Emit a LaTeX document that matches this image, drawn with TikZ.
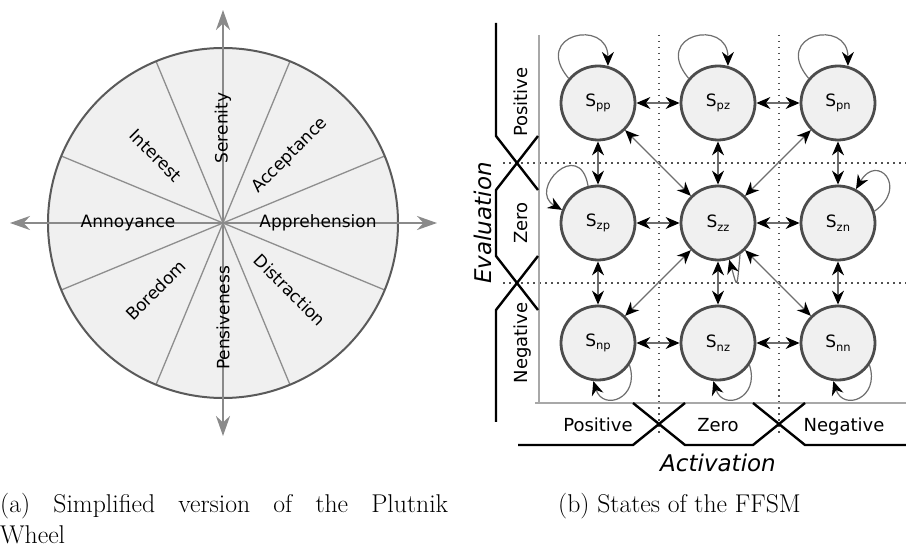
\documentclass[tikz,border=0pt]{standalone}
\usepackage{fontspec}
\newfontfamily\dejavu{DejaVu Sans}
\usetikzlibrary{arrows.meta,calc}

\definecolor{wheelfill}{HTML}{F0F0F0}
\definecolor{rimgray}{HTML}{5A5A5A}
\definecolor{staterim}{HTML}{4C4C4C}
\definecolor{spokegray}{HTML}{8E8E8E}
\definecolor{axisgray}{HTML}{8A8A8A}
\definecolor{gridgray}{HTML}{505050}
\definecolor{edgegray}{HTML}{6E6E6E}
\definecolor{framegray}{HTML}{A8A8A8}

\newcommand{\stname}[1]{S\raisebox{-3.5pt}{\fontsize{11.5}{11.5}\selectfont #1}}

\tikzset{
  headtip/.tip={Stealth[length=14pt,width=12pt,color=black]},
  wlabel/.style={font=\dejavu\fontsize{17}{17}\selectfont, inner sep=0pt},
  state/.style={circle, minimum size=74pt, inner sep=0pt, fill=wheelfill,
    draw=staterim, line width=2.8pt, font=\dejavu\fontsize{17}{17}\selectfont},
  pair/.style={draw=edgegray, line width=1.2pt, arrows=headtip-headtip},
  selfloop/.style={draw=edgegray, line width=1.2pt, arrows=-headtip},
  bracket/.style={black, line width=2.4pt, line join=miter},
  gridline/.style={gridgray, line width=1.3pt, dash pattern=on 1.5pt off 4.5pt},
  frameaxis/.style={framegray, line width=1.8pt},
  axlabel/.style={font=\dejavu\fontsize{18}{18}\selectfont, inner sep=0pt},
  axtitle/.style={font=\dejavu\itshape\fontsize{23}{23}\selectfont, inner sep=0pt},
  caption/.style={font=\fontsize{25.7}{31}\selectfont, inner sep=0pt, anchor=base west},
}

\begin{document}
\begin{tikzpicture}[x=1pt,y=1pt]
\useasboundingbox (0,0) rectangle (906,547);

% ---------------- emotion wheel ----------------
\coordinate (C) at (223,324);
\fill[wheelfill] (C) circle (175);
\foreach \a in {22.5,67.5,...,360}
  \draw[spokegray, line width=1.3pt] (C) -- ++(\a:175);
\draw[rimgray, line width=2pt] (C) circle (175);
\coordinate (axW) at (10,324);
\coordinate (axE) at (437,324);
\coordinate (axS) at (223,111);
\coordinate (axN) at (223,537);
\draw[axisgray, line width=2.4pt,
  arrows={Stealth[length=20pt,width=14pt]-Stealth[length=20pt,width=14pt]}] (axW) -- (axE);
\draw[axisgray, line width=2.4pt,
  arrows={Stealth[length=20pt,width=14pt]-Stealth[length=20pt,width=14pt]}] (axS) -- (axN);

\node[wlabel, rotate=90]  (ser) at ($(C)+(90:95)$)   {Serenity};
\node[wlabel, rotate=45]  (acc) at ($(C)+(45:95)$)   {Acceptance};
\node[wlabel]             (app) at ($(C)+(0:95)$)    {Apprehension};
\node[wlabel, rotate=-45] (dis) at ($(C)+(-45:95)$)  {Distraction};
\node[wlabel, rotate=90]  (pen) at ($(C)+(-90:95)$)  {Pensiveness};
\node[wlabel, rotate=45]  (bor) at ($(C)+(-135:95)$) {Boredom};
\node[wlabel]             (ann) at ($(C)+(180:95)$)  {Annoyance};
\node[wlabel, rotate=-45] (int) at ($(C)+(135:95)$)  {Interest};

% ---------------- FFSM ----------------
% region separators
\draw[gridline] (659,512) -- (659,110);
\draw[gridline] (779,512) -- (779,110);
\draw[gridline] (503,384) -- (906,384);
\draw[gridline] (503,264) -- (906,264);

% plot frame
\coordinate (fTop) at (539,512);
\coordinate (fCorner) at (539,144);
\coordinate (fRight) at (906,144);
\draw[frameaxis] (fTop) -- (fCorner) -- (fRight);
\draw[frameaxis] (535,144) -- (fCorner);

% evaluation brackets
\draw[bracket] (496,524) -- (496,411) -- (538,357);
\draw[bracket] (538,411) -- (496,357) -- (496,291) -- (538,237);
\draw[bracket] (538,291) -- (496,237) -- (496,125);
% activation brackets
\draw[bracket] (518,102) -- (633,102) -- (685,144);
\draw[bracket] (633,144) -- (685,102) -- (753,102) -- (805,144);
\draw[bracket] (753,144) -- (805,102) -- (906,102);

\node[axlabel, rotate=90, anchor=base] (evp) at (527,445) {Positive};
\node[axlabel, rotate=90, anchor=base] (evz) at (527,324) {Zero};
\node[axlabel, rotate=90, anchor=base] (evn) at (527,204) {Negative};
\node[axlabel, anchor=base] (acp) at (598,115) {Positive};
\node[axlabel, anchor=base] (acz) at (718,115) {Zero};
\node[axlabel, anchor=base] (acn) at (844,115) {Negative};
\node[axtitle, rotate=90, anchor=base] (eval) at (491,324) {Evaluation};
\node[axtitle, anchor=base] (activ) at (718,75) {Activation};

% states
\node[state] (pp) at (598,444) {\stname{pp}};
\node[state] (pz) at (718,444) {\stname{pz}};
\node[state] (pn) at (838,444) {\stname{pn}};
\node[state] (zp) at (598,324) {\stname{zp}};
\node[state] (zz) at (718,324) {\stname{zz}};
\node[state] (zn) at (838,324) {\stname{zn}};
\node[state] (np) at (598,204) {\stname{np}};
\node[state] (nz) at (718,204) {\stname{nz}};
\node[state] (nn) at (838,204) {\stname{nn}};

% transitions between neighbouring states
\draw[pair] (pp) -- (pz);
\draw[pair] (pz) -- (pn);
\draw[pair] (zp) -- (zz);
\draw[pair] (zz) -- (zn);
\draw[pair] (np) -- (nz);
\draw[pair] (nz) -- (nn);
\draw[pair] (pp) -- (zp);
\draw[pair] (zp) -- (np);
\draw[pair] (pz) -- (zz);
\draw[pair] (zz) -- (nz);
\draw[pair] (pn) -- (zn);
\draw[pair] (zn) -- (nn);
\draw[pair] (pp) -- (zz);
\draw[pair] (pn) -- (zz);
\draw[pair] (np) -- (zz);
\draw[pair] (nn) -- (zz);

% self transitions
\draw[selfloop] (pp.140) .. controls +(130:58) and +(90:48) .. (pp.75);
\draw[selfloop] (pz.140) .. controls +(130:58) and +(90:48) .. (pz.75);
\draw[selfloop] (pn.140) .. controls +(130:58) and +(90:48) .. (pn.75);
\draw[selfloop] (zp.105) .. controls +(100:50) and +(150:40) .. (zp.160);
\draw[selfloop] (zn.18) .. controls +(35:42) and +(60:42) .. (zn.62);
\draw[selfloop] (zz.-55) .. controls +(-95:37) and +(-74:29) .. (zz.-73);
\draw[selfloop] (np.-35) .. controls +(-72:35) and +(-72:32) .. (np.-97);
\draw[selfloop] (nz.-35) .. controls +(-72:35) and +(-72:32) .. (nz.-97);
\draw[selfloop] (nn.-35) .. controls +(-72:35) and +(-72:32) .. (nn.-97);

% ---------------- captions ----------------
\node[caption] (capa) at (0,35) {\makebox[448pt][s]{(a) Simplified version of the Plutnik}};
\node[caption] (capw) at (0,4) {Wheel};
\node[caption] (capb) at (558,35) {(b) States of the FFSM};
\end{tikzpicture}
\end{document}
